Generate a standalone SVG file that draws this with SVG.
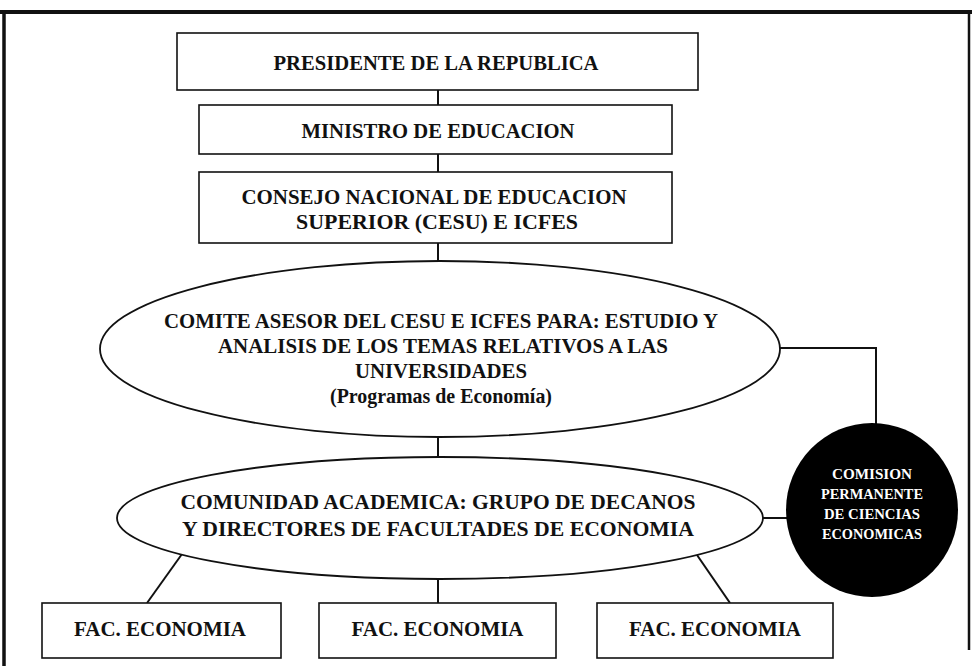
<svg xmlns="http://www.w3.org/2000/svg" width="972" height="666" viewBox="0 0 972 666">
<style>
.box{fill:#fff;stroke:#111;stroke-width:1.6}
.ell{fill:#fff;stroke:#111;stroke-width:1.8}
.t{font-family:"Liberation Serif","Times New Roman",serif;font-weight:bold;font-size:22px;fill:#111;text-anchor:middle}
.w{font-family:"Liberation Serif","Times New Roman",serif;font-weight:bold;font-size:15px;fill:#fff;text-anchor:middle}
.c{fill:none;stroke:#111;stroke-width:2}
.frame{fill:none;stroke:#111}
</style>
<rect width="972" height="666" fill="#fff"/>
<g id="frame">
<line class="frame" x1="0" y1="12" x2="972" y2="12" stroke-width="4"/>
<line class="frame" x1="4" y1="10" x2="4" y2="666" stroke-width="3.5"/>
<line class="frame" x1="969" y1="10" x2="969" y2="650" stroke-width="2.5"/>
</g>
<g id="connectors">
<line class="c" x1="438" y1="90" x2="438" y2="105"/>
<line class="c" x1="438" y1="154" x2="438" y2="172"/>
<line class="c" x1="438" y1="243" x2="438" y2="261"/>
<line class="c" x1="438" y1="437" x2="438" y2="457"/>
<line class="c" x1="438" y1="579" x2="438" y2="603"/>
<line class="c" x1="182" y1="554" x2="147" y2="603"/>
<line class="c" x1="697" y1="555" x2="730" y2="603"/>
<polyline class="c" points="780,348 876,348 876,424"/>
<line class="c" x1="763" y1="518" x2="788" y2="518"/>
</g>
<g id="presidente">
<rect class="box" x="177" y="33" width="521" height="57"/>
<text class="t" x="436" y="70" textLength="325" lengthAdjust="spacingAndGlyphs">PRESIDENTE DE LA REPUBLICA</text>
</g>
<g id="ministro">
<rect class="box" x="199" y="105" width="473" height="49"/>
<text class="t" x="438" y="138" textLength="273" lengthAdjust="spacingAndGlyphs">MINISTRO DE EDUCACION</text>
</g>
<g id="consejo">
<rect class="box" x="199" y="172" width="473" height="71"/>
<text class="t" x="434" y="204" textLength="385" lengthAdjust="spacingAndGlyphs">CONSEJO NACIONAL DE EDUCACION</text>
<text class="t" x="437" y="229" textLength="282" lengthAdjust="spacingAndGlyphs">SUPERIOR (CESU) E ICFES</text>
</g>
<g id="comite">
<ellipse class="ell" cx="440" cy="349" rx="340" ry="88"/>
<text class="t" x="441" y="328" textLength="554" lengthAdjust="spacingAndGlyphs">COMITE ASESOR DEL CESU E ICFES PARA: ESTUDIO Y</text>
<text class="t" x="443" y="353" textLength="450" lengthAdjust="spacingAndGlyphs">ANALISIS DE LOS TEMAS RELATIVOS A LAS</text>
<text class="t" x="441" y="378" textLength="172" lengthAdjust="spacingAndGlyphs">UNIVERSIDADES</text>
<text class="t" x="441" y="403" textLength="222" lengthAdjust="spacingAndGlyphs">(Programas de Economía)</text>
</g>
<g id="comunidad">
<ellipse class="ell" cx="440" cy="518" rx="323" ry="61"/>
<text class="t" x="438" y="509" textLength="515" lengthAdjust="spacingAndGlyphs">COMUNIDAD ACADEMICA: GRUPO DE DECANOS</text>
<text class="t" x="438" y="536" textLength="512" lengthAdjust="spacingAndGlyphs">Y DIRECTORES DE FACULTADES DE ECONOMIA</text>
</g>
<g id="comision">
<ellipse cx="872" cy="510" rx="86" ry="87" fill="#000"/>
<text class="w" x="872" y="479" textLength="80" lengthAdjust="spacingAndGlyphs">COMISION</text>
<text class="w" x="872" y="499" textLength="102" lengthAdjust="spacingAndGlyphs">PERMANENTE</text>
<text class="w" x="872" y="519" textLength="96" lengthAdjust="spacingAndGlyphs">DE CIENCIAS</text>
<text class="w" x="872" y="539" textLength="100" lengthAdjust="spacingAndGlyphs">ECONOMICAS</text>
</g>
<g id="fac1">
<rect class="box" x="42" y="603" width="239" height="55"/>
<text class="t" x="160" y="636" textLength="172" lengthAdjust="spacingAndGlyphs">FAC. ECONOMIA</text>
</g>
<g id="fac2">
<rect class="box" x="319" y="603" width="237" height="55"/>
<text class="t" x="437.5" y="636" textLength="172" lengthAdjust="spacingAndGlyphs">FAC. ECONOMIA</text>
</g>
<g id="fac3">
<rect class="box" x="597" y="603" width="236" height="55"/>
<text class="t" x="715" y="636" textLength="172" lengthAdjust="spacingAndGlyphs">FAC. ECONOMIA</text>
</g>
</svg>
